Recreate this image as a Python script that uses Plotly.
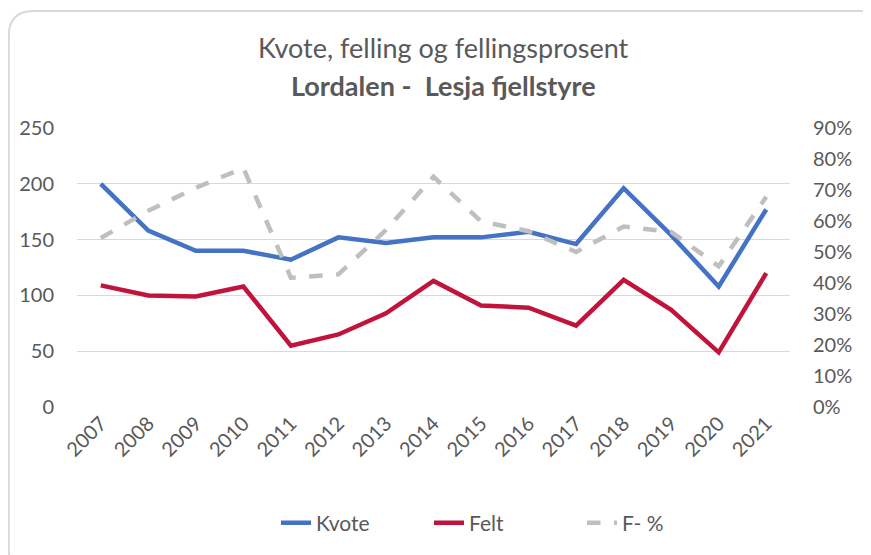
import plotly.graph_objects as go

years = [str(y) for y in range(2007, 2022)]
kvote = [200, 158, 140, 140, 132, 152, 147, 152, 152, 157, 146, 196, 154, 108, 177]
felt = [109, 100, 99, 108, 55, 65, 84, 113, 91, 89, 73, 114, 87, 49, 120]
fpct = [0.545, 0.633, 0.707, 0.771, 0.417, 0.428, 0.571, 0.743, 0.599, 0.567,
        0.500, 0.582, 0.565, 0.454, 0.678]

OFF = 8  # page body margin
W, H = 871 - OFF, 555 - OFF
L, R, T, B = 77 - OFF, 790 - OFF, 128 - OFF, 407 - OFF
FONT = "Lato"
TXT = "#595959"

fig = go.Figure()
fig.add_trace(go.Scatter(x=years, y=kvote, name="Kvote", mode="lines",
                         line=dict(color="#4472C4", width=4.5)))
fig.add_trace(go.Scatter(x=years, y=felt, name="Felt", mode="lines",
                         line=dict(color="#C0143C", width=4.5)))
fig.add_trace(go.Scatter(x=years, y=fpct, name="F- %", mode="lines", yaxis="y2",
                         line=dict(color="#BFBFBF", width=4.5, dash="dash")))


def px(x):
    return (x - L) / (R - L)


def py(y):
    return (B - y) / (B - T)


# rounded chart border (figure pixel coords)
x0, y0, x1, y1, r = 0.8, 3, 876, 566, 25
path = (f"M {px(x0)},{py(y0 + r)} "
        f"Q {px(x0)},{py(y0)} {px(x0 + r)},{py(y0)} "
        f"L {px(x1 - r)},{py(y0)} "
        f"Q {px(x1)},{py(y0)} {px(x1)},{py(y0 + r)} "
        f"L {px(x1)},{py(y1 - r)} "
        f"Q {px(x1)},{py(y1)} {px(x1 - r)},{py(y1)} "
        f"L {px(x0 + r)},{py(y1)} "
        f"Q {px(x0)},{py(y1)} {px(x0)},{py(y1 - r)} Z")
fig.add_shape(type="path", xref="paper", yref="paper", path=path,
              line=dict(color="#D9D9D9", width=2), layer="below")

fig.add_annotation(text="Kvote, felling og fellingsprosent", xref="paper", yref="paper",
                   x=px((258 + 630) / 2 - OFF), y=py(48 - OFF), showarrow=False,
                   xanchor="center", yanchor="middle",
                   font=dict(size=27, color=TXT, family=FONT))
fig.add_annotation(text="<b>Lordalen -  Lesja fjellstyre</b>", xref="paper", yref="paper",
                   x=px((291 + 597) / 2 - OFF), y=py(86 - OFF), showarrow=False,
                   xanchor="center", yanchor="middle",
                   font=dict(size=27, color=TXT, family=FONT))

fig.update_layout(
    width=W, height=H,
    margin=dict(l=L, r=W - R, t=T, b=H - B, autoexpand=False),
    paper_bgcolor="white", plot_bgcolor="white",
    font=dict(family=FONT, color=TXT, size=20),
    xaxis=dict(type="category", range=[-0.5, 14.5], tickangle=-45, showgrid=False,
               showline=False, ticks="", automargin=False,
               tickfont=dict(size=20, color=TXT)),
    yaxis=dict(range=[0, 250], dtick=50, showgrid=True, gridcolor="#D9D9D9",
               gridwidth=1.2, zeroline=False, showline=False, ticks="", automargin=False,
               ticklabelstandoff=22, tickfont=dict(size=20, color=TXT)),
    yaxis2=dict(range=[0, 0.9], dtick=0.1, tickformat=".0%", overlaying="y",
                side="right", showgrid=False, zeroline=False, showline=False,
                ticks="", automargin=False, ticklabelstandoff=22,
                tickfont=dict(size=20, color=TXT)),
    legend=dict(orientation="h", x=px(276 - OFF), xanchor="left", y=py(523 - OFF),
                yanchor="middle", font=dict(size=21, color=TXT),
                entrywidth=108, traceorder="normal"),
    showlegend=True,
)

fig.write_html("out.html")
